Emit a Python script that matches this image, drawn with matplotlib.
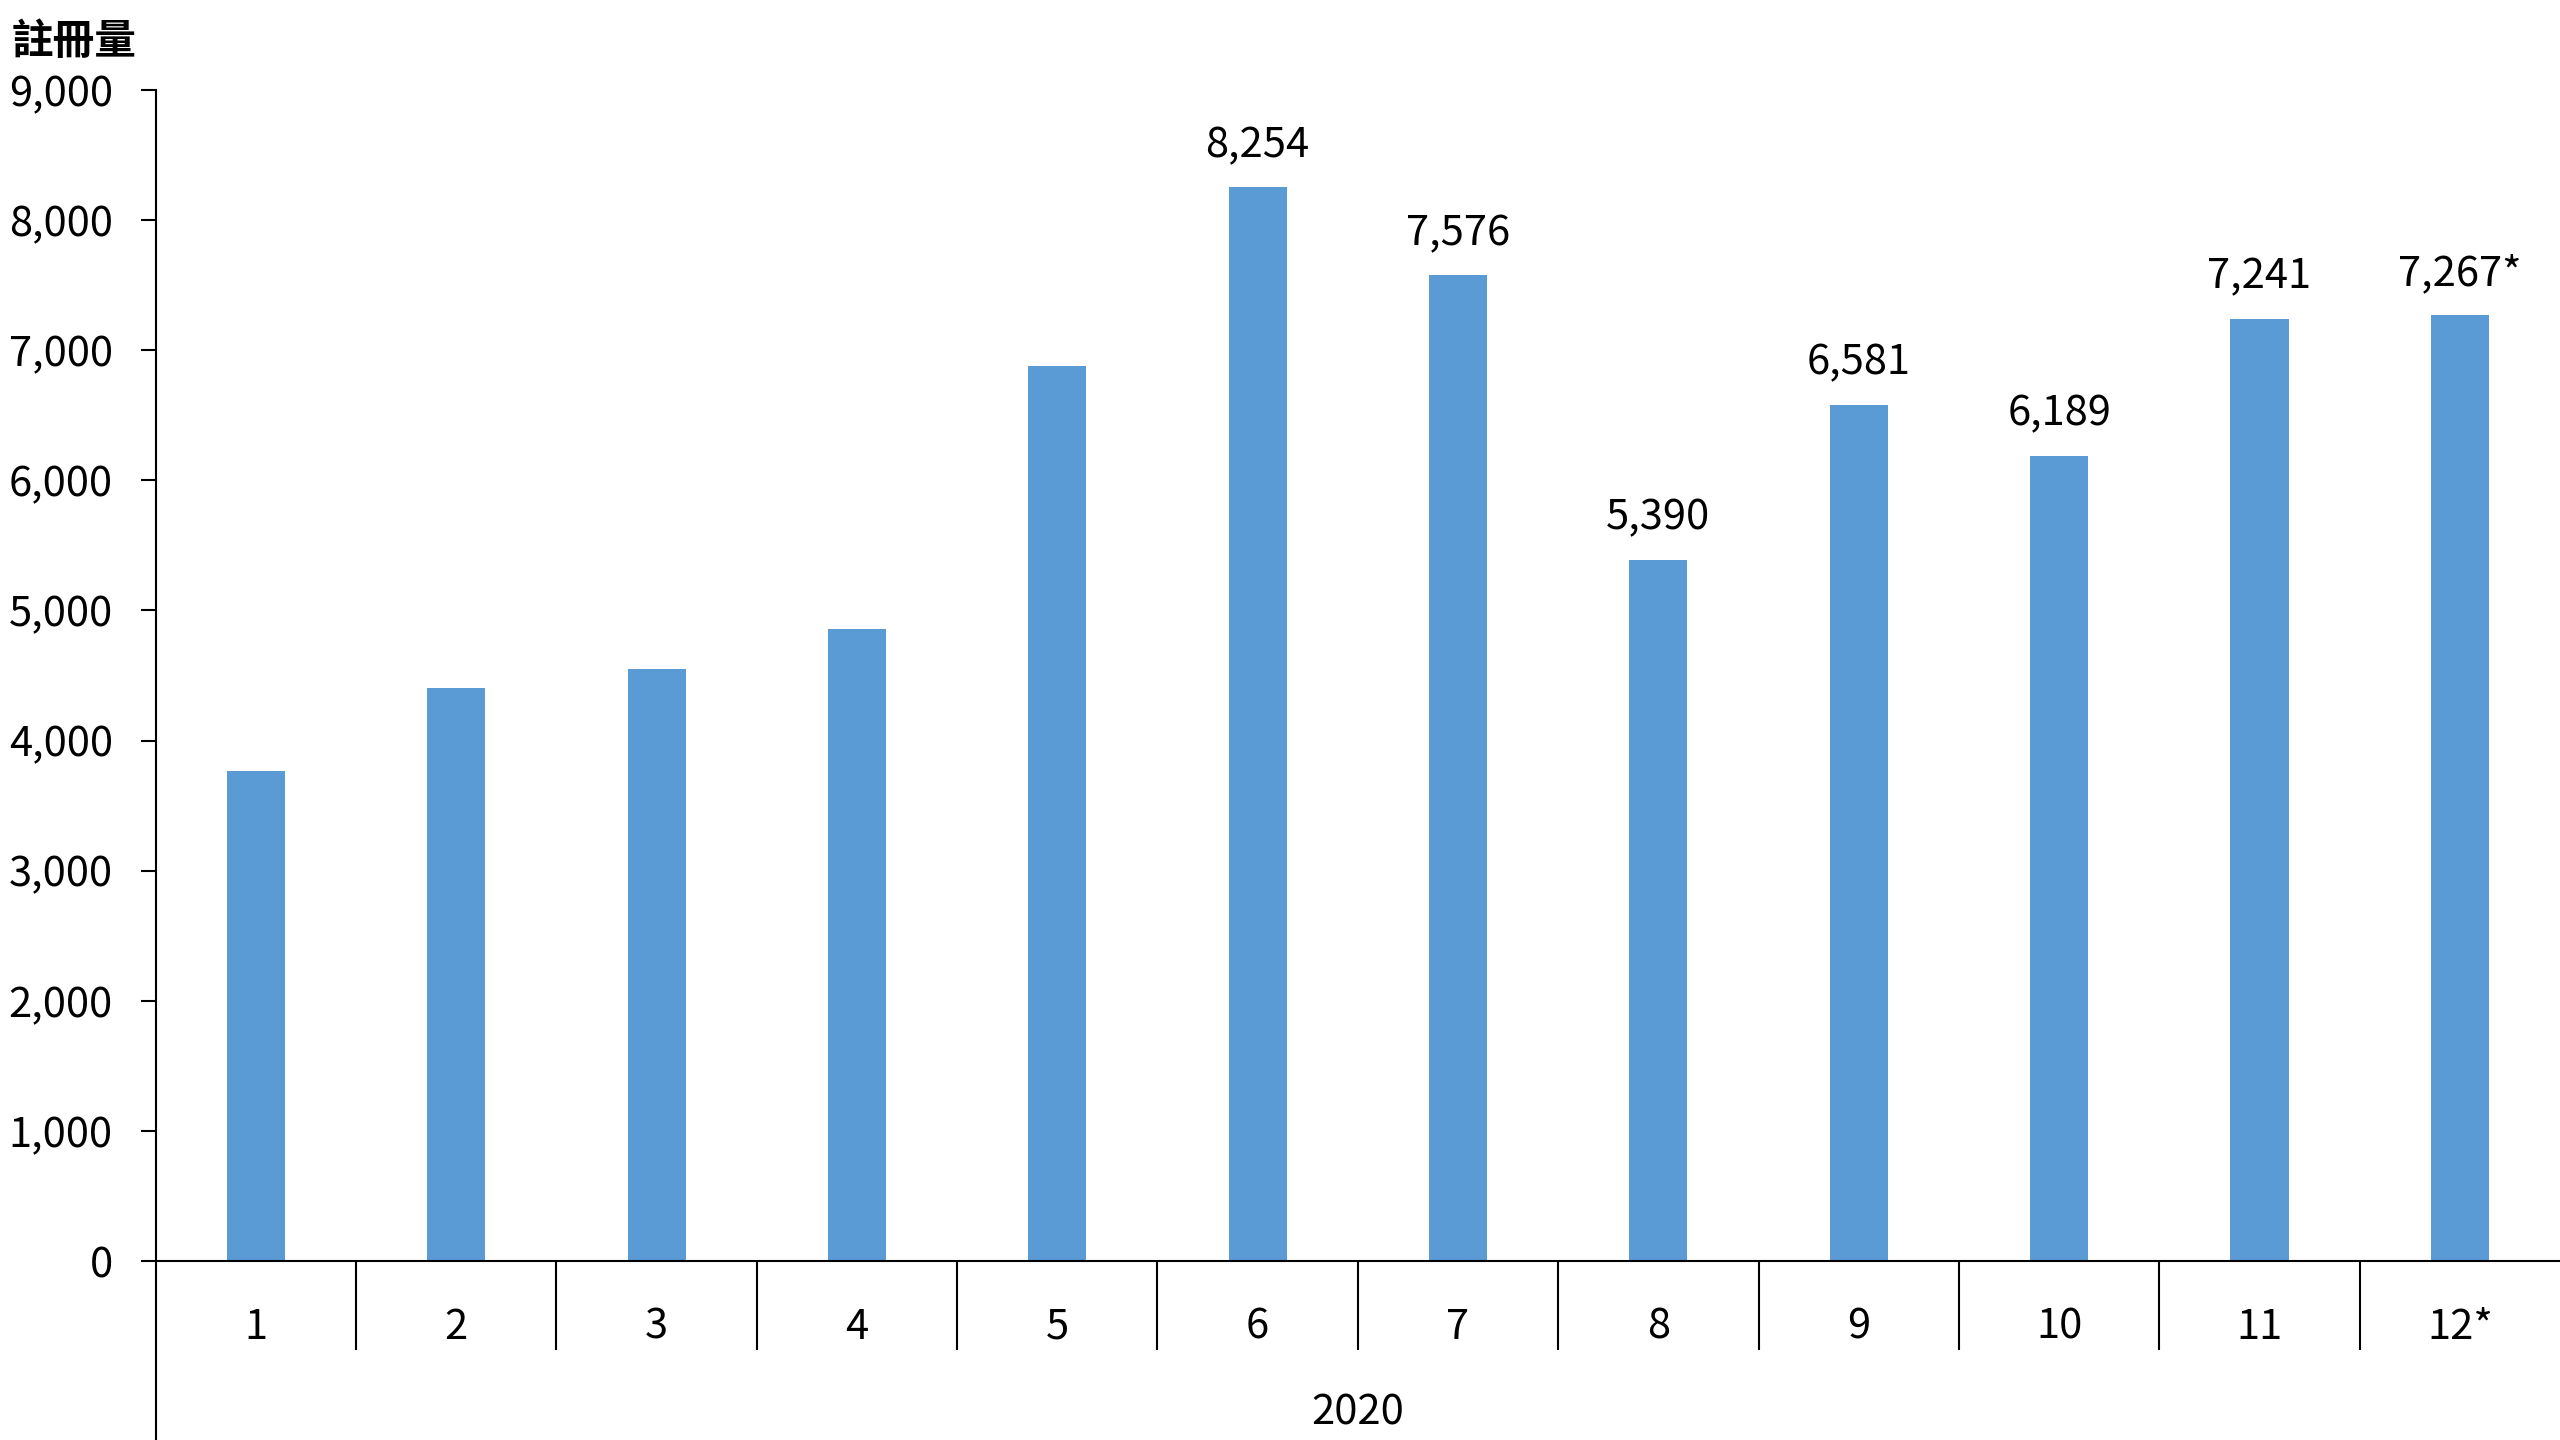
import matplotlib
matplotlib.use('Agg')
import matplotlib.pyplot as plt
import matplotlib.transforms as mtransforms
import numpy as np

plt.rcParams['font.family'] = ['Noto Sans CJK TC', 'DejaVu Sans']

# monthly registrations, 2020
months = ['1', '2', '3', '4', '5', '6', '7', '8', '9', '10', '11', '12*']
values = [3766, 4404, 4552, 4858, 6879, 8254, 7576, 5390, 6581, 6189, 7241, 7267]
bar_labels = ['', '', '', '', '', '8,254', '7,576', '5,390', '6,581', '6,189', '7,241', '7,267*']
year = '2020'
y_title = '註冊量'
yticks = [0, 1000, 2000, 3000, 4000, 5000, 6000, 7000, 8000, 9000]

fig = plt.figure(figsize=(25.6, 14.4), dpi=100)
ax = fig.add_axes([155.7 / 2560, 179 / 1440, 1 - 155.7 / 2560, 1171 / 1440])

x = np.arange(len(months))
ax.bar(x, values, width=0.29, color='#5B9BD5', zorder=2)

for xi, v, lab in zip(x, values, bar_labels):
    if lab:
        ax.annotate(lab, (xi, v), xytext=(0, 30), textcoords='offset points',
                    ha='center', va='center', fontsize=30)

ax.set_xlim(-0.5, len(months) - 0.5)
ax.set_ylim(0, 9000)
ax.set_yticks(yticks)
ax.set_yticklabels([f'{t:,}' for t in yticks], fontsize=30)
ax.tick_params(axis='y', length=11, width=1.5, pad=20)

ax.set_xticks(x)
ax.set_xticklabels(months, fontsize=30)
ax.tick_params(axis='x', which='major', length=0, pad=33)
ax.set_xticks(x[:-1] + 0.5, minor=True)
ax.tick_params(axis='x', which='minor', length=64, width=1.5, direction='out')

for s in ['top', 'right']:
    ax.spines[s].set_visible(False)
ax.spines['left'].set_linewidth(1.5)
ax.spines['bottom'].set_linewidth(1.5)

# left axis line runs down past the category area
ax.plot([0, 0], [0, -0.16], transform=ax.transAxes, color='black',
        lw=1.5, clip_on=False, solid_capstyle='butt')

trans = mtransforms.blended_transform_factory(ax.transAxes, ax.transAxes)
ax.text(0.5, -0.130, year, transform=trans, ha='center', va='center', fontsize=30)

fig.text(12 / 2560, 1 - 42 / 1440, y_title, ha='left', va='center',
         fontsize=30, fontweight='bold')

fig.savefig('out.png', dpi=100)
